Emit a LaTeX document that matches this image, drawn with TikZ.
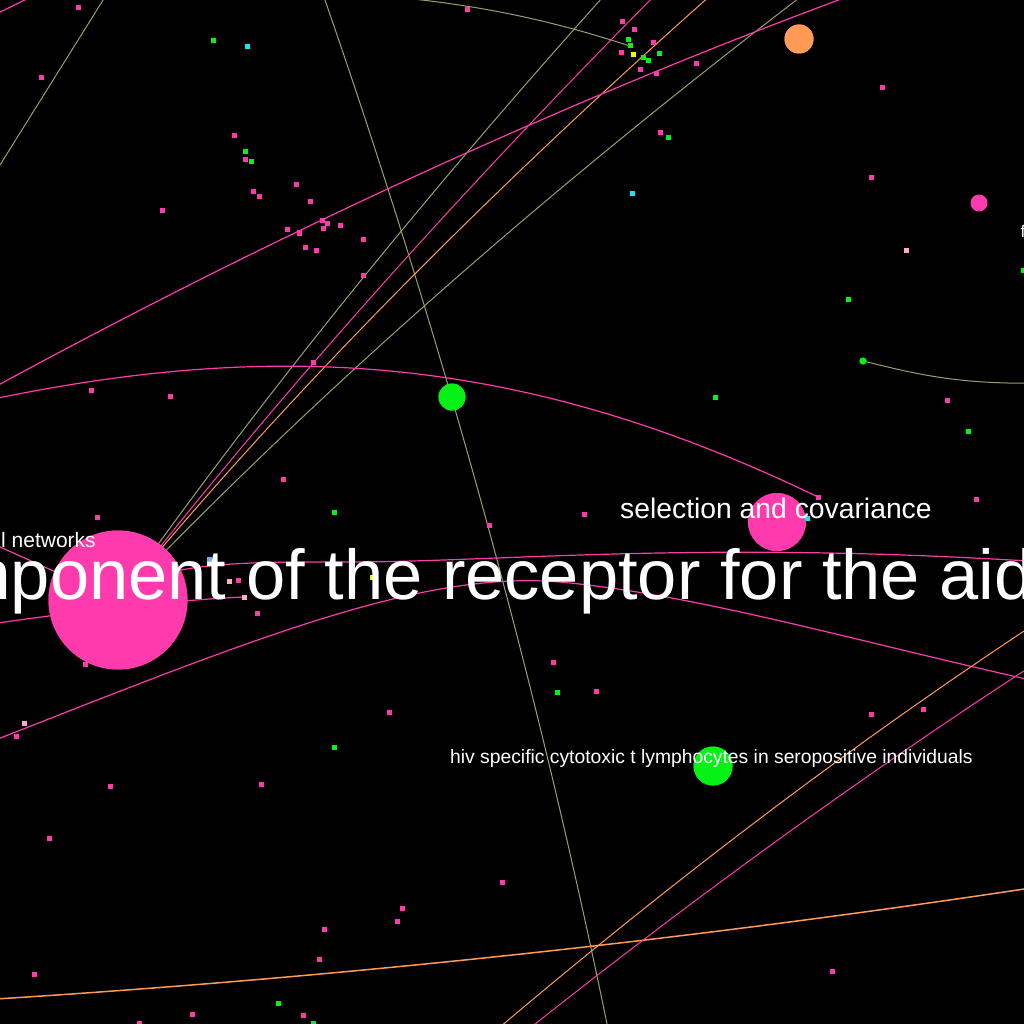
\documentclass[tikz,border=0pt]{standalone}
\usepackage{fontspec}
\setmainfont{Liberation Sans}
\definecolor{cpink}{RGB}{255,58,173}
\definecolor{cgreen}{RGB}{4,242,22}
\definecolor{corange}{RGB}{255,155,85}
\definecolor{colive}{RGB}{150,162,105}
\definecolor{ccyan}{RGB}{30,230,240}
\definecolor{cyellow}{RGB}{245,245,0}
\definecolor{clpink}{RGB}{255,170,205}
\definecolor{clblue}{RGB}{120,170,255}
\tikzset{
  edgeolive/.style={draw=colive, line width=1pt},
  edgepink/.style={draw=cpink, line width=1.2pt},
  edgeorange/.style={draw=corange, line width=1.2pt},
  dotbase/.style={rectangle, inner sep=0pt, minimum size=5pt, draw=none},
  pdot/.style={dotbase, fill=cpink},
  gdot/.style={dotbase, fill=cgreen},
  cdot/.style={dotbase, fill=ccyan},
  ydot/.style={dotbase, fill=cyellow},
  lpdot/.style={dotbase, fill=clpink},
  lbdot/.style={dotbase, fill=clblue},
  ball/.style={circle, inner sep=0pt, draw=none},
  lab/.style={text=white, inner sep=0pt, anchor=base west},
}
\begin{document}
\begin{tikzpicture}[x=1pt,y=-1pt]
\useasboundingbox (0,0) rectangle (1024,1024);
\fill[black] (0,0) rectangle (1024,1024);
\clip (0,0) rectangle (1024,1024);

% ---- nodes (big) ----
\node[ball, fill=cpink, minimum size=139pt] (big) at (118,600) {};
\node[ball, fill=cpink, minimum size=58pt] (sel) at (777,522) {};
\node[ball, fill=cgreen, minimum size=27pt] (g1) at (452,397) {};
\node[ball, fill=cgreen, minimum size=39pt] (hiv) at (713,766) {};
\node[ball, fill=corange, minimum size=29pt] (or1) at (799,39) {};
\node[ball, fill=cpink, minimum size=17pt] (pk2) at (979,203) {};
\node[ball, fill=cgreen, minimum size=7pt] (g2) at (863,361) {};
\node[pdot] (pH) at (818,497) {};
\node[gdot] (gE3) at (630,46) {};
\node[lpdot] (lpL) at (244,597) {};

% ---- off-canvas edge ends ----
\coordinate (e1a) at (120,-27);  \coordinate (e1b) at (-20,197);
\coordinate (e2a) at (325,0);    \coordinate (e2b) at (607,1024);
\coordinate (e3a) at (300,-8);
\coordinate (e4a) at (620,-22);
\coordinate (e5a) at (670,-20);
\coordinate (e6a) at (728,-20);
\coordinate (e7a) at (820,-18);
\coordinate (e8a) at (860,-8);   \coordinate (e8b) at (-20,395);
\coordinate (e9a) at (45,-10);   \coordinate (e9b) at (-20,22);
\coordinate (e10a) at (-30,404);
\coordinate (e11a) at (1044,562);
\coordinate (e12a) at (-30,627);
\coordinate (e13a) at (-20,746); \coordinate (e13b) at (1044,683);
\coordinate (e14a) at (-20,1000); \coordinate (e14b) at (1044,886);
\coordinate (e15a) at (1050,614); \coordinate (e15b) at (480,1044);
\coordinate (e16a) at (1050,654); \coordinate (e16b) at (510,1044);
\coordinate (e17b) at (1050,383);
\coordinate (e18a) at (-40,529);

% ---- edges ----
\draw[edgeolive] (e1a) -- (e1b);
\draw[edgeolive] (e2a) .. controls (443,341) and (537,683) .. (e2b);
\draw[edgeolive] (e3a) .. controls (450,-5) and (550,20) .. (gE3.center);
\draw[edgeolive] (e4a) .. controls (433,185) and (265,393) .. (big.center);
\draw[edgepink, line width=1pt] (e5a) .. controls (464,187) and (280,393) .. (big.center);
\draw[edgeorange, line width=1pt] (e6a) .. controls (493,187) and (289,393) .. (big.center);
\draw[edgeolive] (e7a) .. controls (549,188) and (315,394) .. (big.center);
\draw[edgepink] (e8a) .. controls (567,100) and (273,235) .. (e8b);
\draw[edgepink] (e9a) -- (e9b);
\draw[edgepink] (e10a) .. controls (270,338) and (518,352) .. (pH.center);
\draw[edgepink] (big.center) .. controls (150,560) and (250,562) .. (350,562) .. controls (500,562) and (700,540) .. (e11a);
\draw[edgepink] (e12a) .. controls (100,608) and (180,600) .. (lpL.center);
\draw[edgepink] (e13a) .. controls (250,640) and (420,570) .. (560,582) .. controls (700,595) and (850,640) .. (e13b);
\draw[edgeorange, line width=1.5pt] (e14a) .. controls (335,978) and (689,940) .. (e14b);
\draw[edgeorange, line width=1pt] (e15a) .. controls (860,738) and (670,882) .. (e15b);
\draw[edgepink, line width=1pt] (e16a) .. controls (870,770) and (690,900) .. (e16b);
\draw[edgeolive] (g2.center) .. controls (920,375) and (960,385) .. (e17b);
\draw[edgepink] (e18a) -- (big.center);

% redraw big nodes on top of edges
\node[ball, fill=cpink, minimum size=139pt] at (big) {};
\node[ball, fill=cpink, minimum size=58pt] at (sel) {};
\node[ball, fill=cgreen, minimum size=27pt] at (g1) {};
\node[ball, fill=cgreen, minimum size=39pt] at (hiv) {};
\node[ball, fill=corange, minimum size=29pt] at (or1) {};
\node[ball, fill=cgreen, minimum size=7pt] at (g2) {};
\node[pdot] at (pH) {};
\node[gdot] at (gE3) {};
\node[lpdot] at (lpL) {};

% ---- small nodes ----
\foreach \x/\y [count=\i] in {78/8,41/78,234/136,245/160,296/185,253/192,259/197,162/211,310/202,322/221,327/224,323/229,340/226,287/230,299/233,363/239,305/247,316/250,363/275,
  622/22,634/30,653/43,621/53,640/70,656/74,696/64,467/10,660/133,882/88,871/178,947/400,976/499,
  91/390,170/396,313/362,283/479,489/525,584/514,97/517,238/580,257/613,85/664,16/736,389/712,110/786,261/784,49/838,
  553/662,596/691,871/714,923/709,34/974,324/929,319/959,192/1014,303/1015,139/1023,502/882,402/908,397/921,832/971,197/567}
  \node[pdot] (p\i) at (\x,\y) {};
\foreach \x/\y [count=\i] in {213/41,245/152,251/162,628/40,659/54,643/58,648/61,668/138,848/299,715/397,968/431,1023/270,334/512,334/747,557/692,278/1003,313/1023}
  \node[gdot] (q\i) at (\x,\y) {};
\foreach \x/\y [count=\i] in {247/47,632/194,807/518}
  \node[cdot] (c\i) at (\x,\y) {};
\node[ydot] (y1) at (633,55) {};
\node[ydot] (y2) at (372,577) {};
\node[lpdot] (lp1) at (229,581) {};
\node[lpdot] (lp2) at (24,723) {};
\node[lpdot] (lp3) at (906,250) {};
\node[lbdot] (lb1) at (209,559) {};

% ---- labels ----
\node[lab, font=\fontsize{70.5}{80}\selectfont] (t1) at (-48,599) {mponent of the receptor for the aids};
\node[lab, font=\fontsize{28.3}{32}\selectfont] (t2) at (620,518) {selection and covariance};
\node[lab, font=\fontsize{19.3}{22}\selectfont] (t3) at (450,763) {hiv specific cytotoxic t lymphocytes in seropositive individuals};
\node[lab, font=\fontsize{21}{24}\selectfont] (t4) at (1,547) {l networks};
\node[lab, font=\fontsize{17}{20}\selectfont] (t5) at (1020.5,237) {f};
\end{tikzpicture}
\end{document}
